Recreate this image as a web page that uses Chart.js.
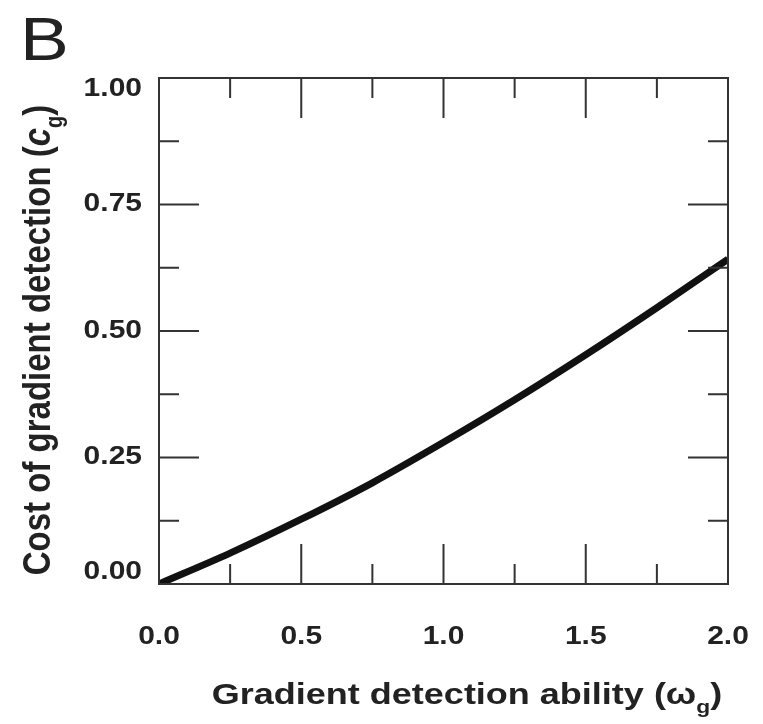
<!DOCTYPE html>
<html>
<head>
<meta charset="utf-8">
<script src="https://cdn.jsdelivr.net/npm/chart.js@4.4.1/dist/chart.umd.min.js"></script>
<style>
  html, body { margin: 0; padding: 0; background: #fff; }
  #wrap { width: 763px; height: 724px; }
</style>
</head>
<body>
<div id="wrap"><canvas id="myChart" width="763" height="724"></canvas></div>
<script>
// Datos
const ability = [0, 0.25, 0.5, 0.75, 1.0, 1.25, 1.5, 1.75, 2.0];
const cost    = [0, 0.061, 0.128, 0.200, 0.280, 0.364, 0.453, 0.546, 0.642];

const xTickValues = [0, 0.5, 1.0, 1.5, 2.0];
const xTickLabels = ['0.0', '0.5', '1.0', '1.5', '2.0'];
const yTickValues = [0, 0.25, 0.5, 0.75, 1.0];
const yTickLabels = ['0.00', '0.25', '0.50', '0.75', '1.00'];

const panelLetter = 'B';
const xTitle = ['Gradient detection ability (', '\u03c9', 'g', ')'];
const yTitle = ['Cost of gradient detection (', 'c', 'g', ')'];

// el original esta estirado en horizontal
const SX = 1.2;
const INK = '#222';
const FONT = '"Liberation Sans", Arial, sans-serif';

function stretchText(ctx, txt, x, y, font, align, baseline) {
    ctx.save();
    ctx.translate(x, y);
    ctx.scale(SX, 1);
    ctx.font = font;
    ctx.fillStyle = INK;
    ctx.textAlign = align;
    ctx.textBaseline = baseline;
    ctx.fillText(txt, 0, 0);
    ctx.restore();
}

// titulo con subindice: [texto, simbolo, subindice, cierre]
function drawTitle(ctx, parts, size, italicSymbol) {
    const main = 'bold ' + size + 'px ' + FONT;
    const sym = (italicSymbol ? 'italic bold ' : 'bold ') + size + 'px ' + FONT;
    const sub = 'bold ' + Math.round(size * 0.62) + 'px ' + FONT;
    ctx.font = main; const w0 = ctx.measureText(parts[0]).width;
    ctx.font = sym;  const w1 = ctx.measureText(parts[1]).width;
    ctx.font = sub;  const w2 = ctx.measureText(parts[2]).width;
    ctx.font = main; const w3 = ctx.measureText(parts[3]).width;
    let x = -(w0 + w1 + w2 + w3) / 2;
    ctx.fillStyle = INK;
    ctx.textBaseline = 'alphabetic';
    ctx.textAlign = 'left';
    ctx.font = main; ctx.fillText(parts[0], x, 0); x += w0;
    ctx.font = sym;  ctx.fillText(parts[1], x, 0); x += w1;
    ctx.font = sub;  ctx.fillText(parts[2], x, size * 0.3); x += w2;
    ctx.font = main; ctx.fillText(parts[3], x, 0);
}

const framePlugin = {
    id: 'frame',
    afterDraw(chart) {
        const ctx = chart.ctx;
        const a = chart.chartArea;
        const xs = chart.scales.x;
        const ys = chart.scales.y;

        ctx.save();
        ctx.strokeStyle = '#333';
        ctx.lineWidth = 2;
        ctx.strokeRect(a.left, a.top, a.right - a.left, a.bottom - a.top);

        // marcas hacia adentro
        ctx.beginPath();
        for (let v = 0; v <= 2.0001; v += 0.25) {
            const px = xs.getPixelForValue(v);
            const len = Math.abs(v / 0.5 - Math.round(v / 0.5)) < 1e-6 ? 40 : 20;
            ctx.moveTo(px, a.bottom); ctx.lineTo(px, a.bottom - len);
            ctx.moveTo(px, a.top);    ctx.lineTo(px, a.top + len);
        }
        for (let v = 0; v <= 1.0001; v += 0.125) {
            const py = ys.getPixelForValue(v);
            const len = Math.abs(v / 0.25 - Math.round(v / 0.25)) < 1e-6 ? 40 : 20;
            ctx.moveTo(a.left, py);  ctx.lineTo(a.left + len, py);
            ctx.moveTo(a.right, py); ctx.lineTo(a.right - len, py);
        }
        ctx.stroke();
        ctx.restore();

        // etiquetas de los ejes
        const tickFont = 'bold 25px ' + FONT;
        xTickValues.forEach((v, i) => {
            stretchText(ctx, xTickLabels[i], xs.getPixelForValue(v), 637, tickFont, 'center', 'middle');
        });
        yTickValues.forEach((v, i) => {
            let py = ys.getPixelForValue(v);
            py = Math.min(Math.max(py, a.top + 11), a.bottom - 12);
            stretchText(ctx, yTickLabels[i], 142, py, tickFont, 'right', 'middle');
        });

        // titulos
        ctx.save();
        ctx.translate(467, 704);
        ctx.scale(SX, 1);
        drawTitle(ctx, xTitle, 30, false);
        ctx.restore();

        ctx.save();
        ctx.translate(50, 340);
        ctx.scale(SX, 1);
        ctx.rotate(-Math.PI / 2);
        drawTitle(ctx, yTitle, 33, true);
        ctx.restore();

        stretchText(ctx, panelLetter, 20, 60, '61px ' + FONT, 'left', 'alphabetic');
    }
};

const ctx = document.getElementById('myChart');

new Chart(ctx, {
    type: 'line',
    data: {
        datasets: [{
            data: ability.map((x, i) => ({x: x, y: cost[i]})),
            borderColor: '#111',
            borderWidth: 7,
            pointRadius: 0,
            cubicInterpolationMode: 'monotone',
            fill: false
        }]
    },
    options: {
        responsive: false,
        animation: false,
        layout: {
            padding: {left: 159, right: 35, top: 78, bottom: 140}
        },
        plugins: {
            legend: {display: false},
            tooltip: {enabled: false}
        },
        scales: {
            x: {type: 'linear', min: 0, max: 2, display: false},
            y: {type: 'linear', min: 0, max: 1, display: false}
        }
    },
    plugins: [framePlugin]
});
</script>
</body>
</html>
